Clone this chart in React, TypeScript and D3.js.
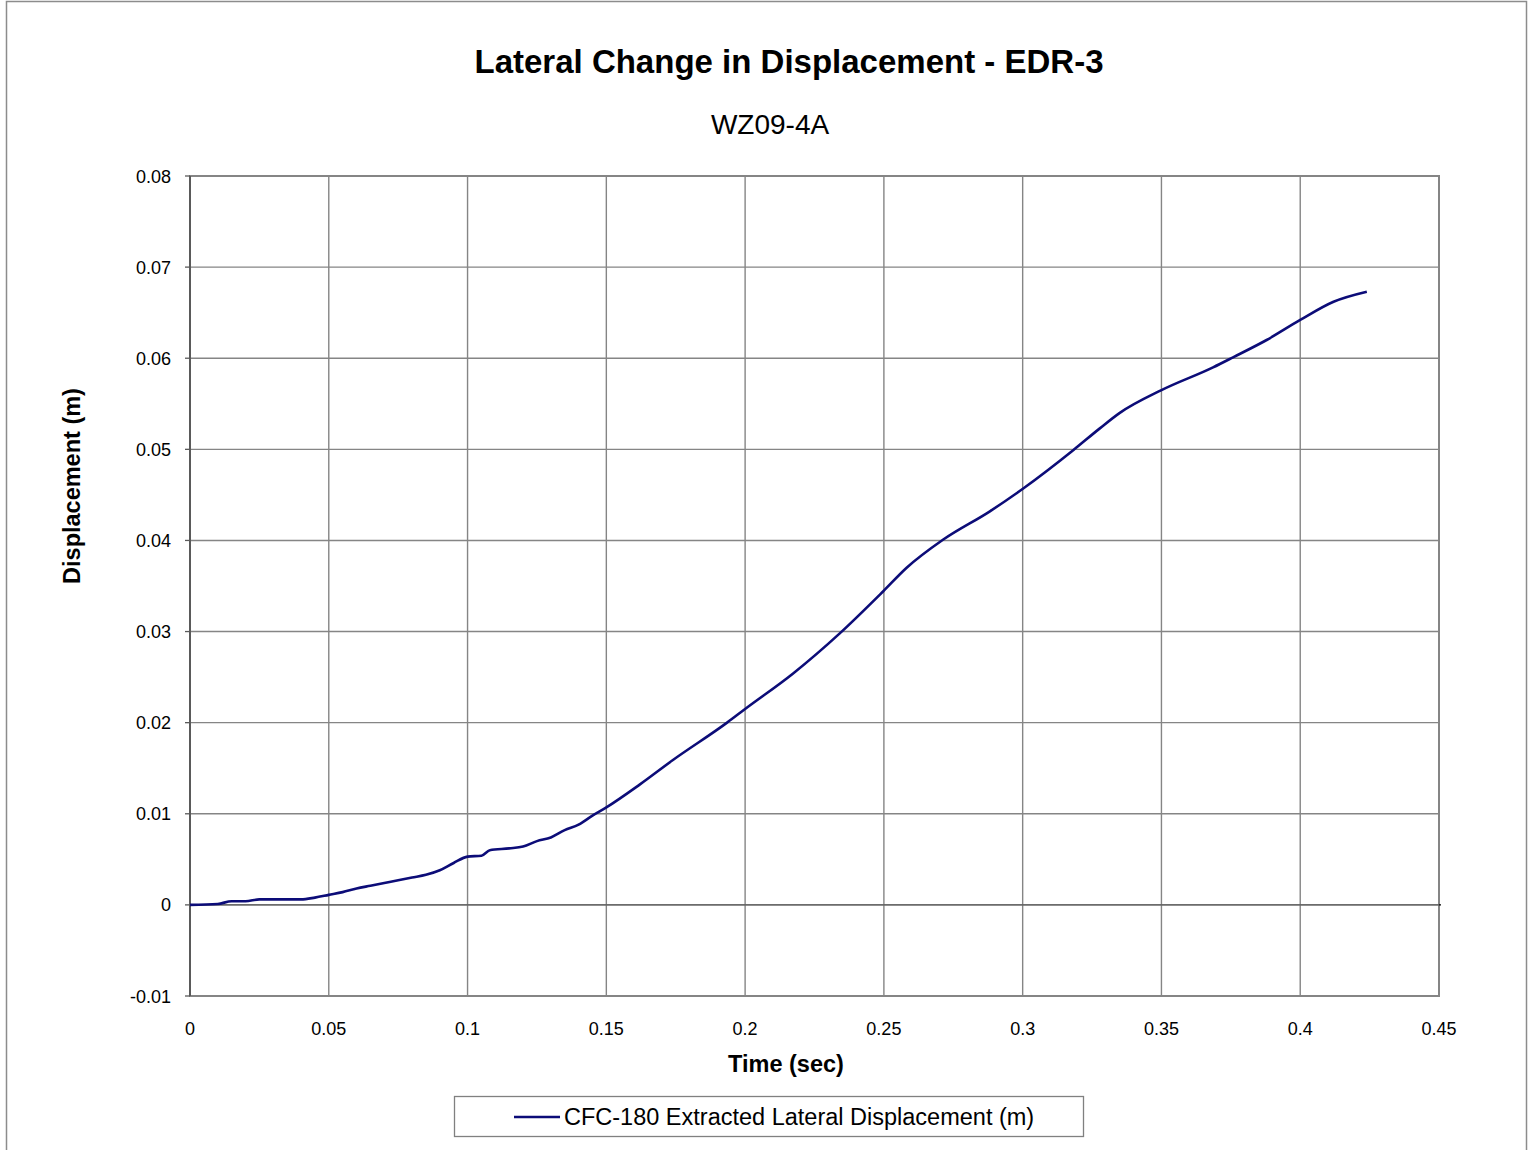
import { useEffect } from 'react';
import * as d3 from 'd3';

const timeSec = [
  0, 0.01, 0.015, 0.02, 0.025, 0.03, 0.04, 0.045, 0.05, 0.055, 0.06, 0.065, 0.07, 0.075,
  0.08, 0.085, 0.09, 0.095, 0.1, 0.105, 0.108, 0.115, 0.12, 0.125, 0.13, 0.135, 0.14,
  0.145, 0.15, 0.162, 0.174, 0.1935, 0.2, 0.2173, 0.2341, 0.2497, 0.2582, 0.2714, 0.2882,
  0.3002, 0.3182, 0.3278, 0.335, 0.35, 0.3686, 0.3758, 0.3879, 0.4, 0.412, 0.424,
];
const displacement = [
  0, 0.0001, 0.0004, 0.0004, 0.0006, 0.0006, 0.0006, 0.0008, 0.0011, 0.0014, 0.0018,
  0.0021, 0.0024, 0.0027, 0.003, 0.0033, 0.0038, 0.0046, 0.0053, 0.0054, 0.006, 0.0062,
  0.0064, 0.007, 0.0074, 0.0082, 0.0088, 0.0098, 0.0107, 0.0132, 0.0159, 0.02, 0.0215,
  0.0254, 0.0298, 0.0344, 0.037, 0.0401, 0.0432, 0.0457, 0.0499, 0.0523, 0.054, 0.0565,
  0.059, 0.0601, 0.062, 0.0642, 0.0662, 0.0673,
];
const xTicks = [0, 0.05, 0.1, 0.15, 0.2, 0.25, 0.3, 0.35, 0.4, 0.45];
const yTicks = [-0.01, 0, 0.01, 0.02, 0.03, 0.04, 0.05, 0.06, 0.07, 0.08];
const seriesName = 'CFC-180 Extracted Lateral Displacement (m)';

const W = 1529;
const H = 1150;
const plot = { left: 190, right: 1439, top: 176, bottom: 996 };
const font = '"Liberation Sans", Arial, sans-serif';
const gridColor = '#858585';
const axisColor = '#5a5a5a';
const lineColor = '#0c0c78';

export default function App() {
  useEffect(() => {
    document.body.style.margin = '0';
  }, []);

  const x = d3.scaleLinear().domain([0, 0.45]).range([plot.left, plot.right]);
  const y = d3.scaleLinear().domain([-0.01, 0.08]).range([plot.bottom, plot.top]);

  const points = timeSec.map((t, i) => [t, displacement[i]] as [number, number]);
  const path = d3
    .line<[number, number]>()
    .x(d => x(d[0]))
    .y(d => y(d[1]))
    .curve(d3.curveMonotoneX)(points);

  const fmt = (v: number) => (v === 0 ? '0' : String(+v.toFixed(2)));

  return (
    <svg width={W} height={H} style={{ display: 'block', background: '#fff' }} fontFamily={font}>
      <rect x={6.5} y={1.5} width={1520} height={1165} fill="#fff" stroke="#8c8c8c" strokeWidth={1.5} />

      <text x={789} y={73} textAnchor="middle" fontSize={33} fontWeight="bold" fill="#000">
        Lateral Change in Displacement - EDR-3
      </text>
      <text x={770} y={134} textAnchor="middle" fontSize={28} fill="#000">
        WZ09-4A
      </text>

      {/* grid */}
      {yTicks.map(v => (
        <line key={'gy' + v} x1={plot.left} x2={plot.right} y1={y(v)} y2={y(v)} stroke={gridColor} strokeWidth={1.4} />
      ))}
      {xTicks.map(v => (
        <line key={'gx' + v} x1={x(v)} x2={x(v)} y1={plot.top} y2={plot.bottom} stroke={gridColor} strokeWidth={1.4} />
      ))}
      <rect
        x={plot.left}
        y={plot.top}
        width={plot.right - plot.left}
        height={plot.bottom - plot.top}
        fill="none"
        stroke={gridColor}
        strokeWidth={2}
      />

      {/* y axis */}
      <line x1={plot.left} x2={plot.left} y1={plot.top} y2={plot.bottom} stroke={axisColor} strokeWidth={2} />
      {yTicks.map(v => (
        <g key={'ty' + v}>
          <line x1={plot.left - 5} x2={plot.left} y1={y(v)} y2={y(v)} stroke={axisColor} strokeWidth={1.3} />
          <text x={171} y={y(v) + 6.5} textAnchor="end" fontSize={18} fill="#000">
            {fmt(v)}
          </text>
        </g>
      ))}

      {/* x axis at zero */}
      <line x1={plot.left} x2={plot.right} y1={y(0)} y2={y(0)} stroke={axisColor} strokeWidth={1.3} />
      {xTicks.map(v => (
        <g key={'tx' + v}>
          <text x={x(v)} y={1035} textAnchor="middle" fontSize={18} fill="#000">
            {fmt(v)}
          </text>
        </g>
      ))}
      <line x1={plot.right} x2={plot.right + 2} y1={y(0)} y2={y(0)} stroke="#000" strokeWidth={1.3} />

      <text x={786} y={1072} textAnchor="middle" fontSize={23.5} fontWeight="bold" fill="#000">
        Time (sec)
      </text>
      <text
        transform="translate(80, 486) rotate(-90)"
        textAnchor="middle"
        fontSize={23.5}
        fontWeight="bold"
        fill="#000"
      >
        Displacement (m)
      </text>

      {path && <path d={path} fill="none" stroke={lineColor} strokeWidth={2.6} strokeLinejoin="round" />}

      {/* legend */}
      <rect x={454.5} y={1096.5} width={629} height={40} fill="#fff" stroke="#808080" strokeWidth={1.3} />
      <line x1={514} x2={560} y1={1117} y2={1117} stroke={lineColor} strokeWidth={2.6} />
      <text x={564} y={1125} fontSize={23.5} fill="#000">
        {seriesName}
      </text>
    </svg>
  );
}
